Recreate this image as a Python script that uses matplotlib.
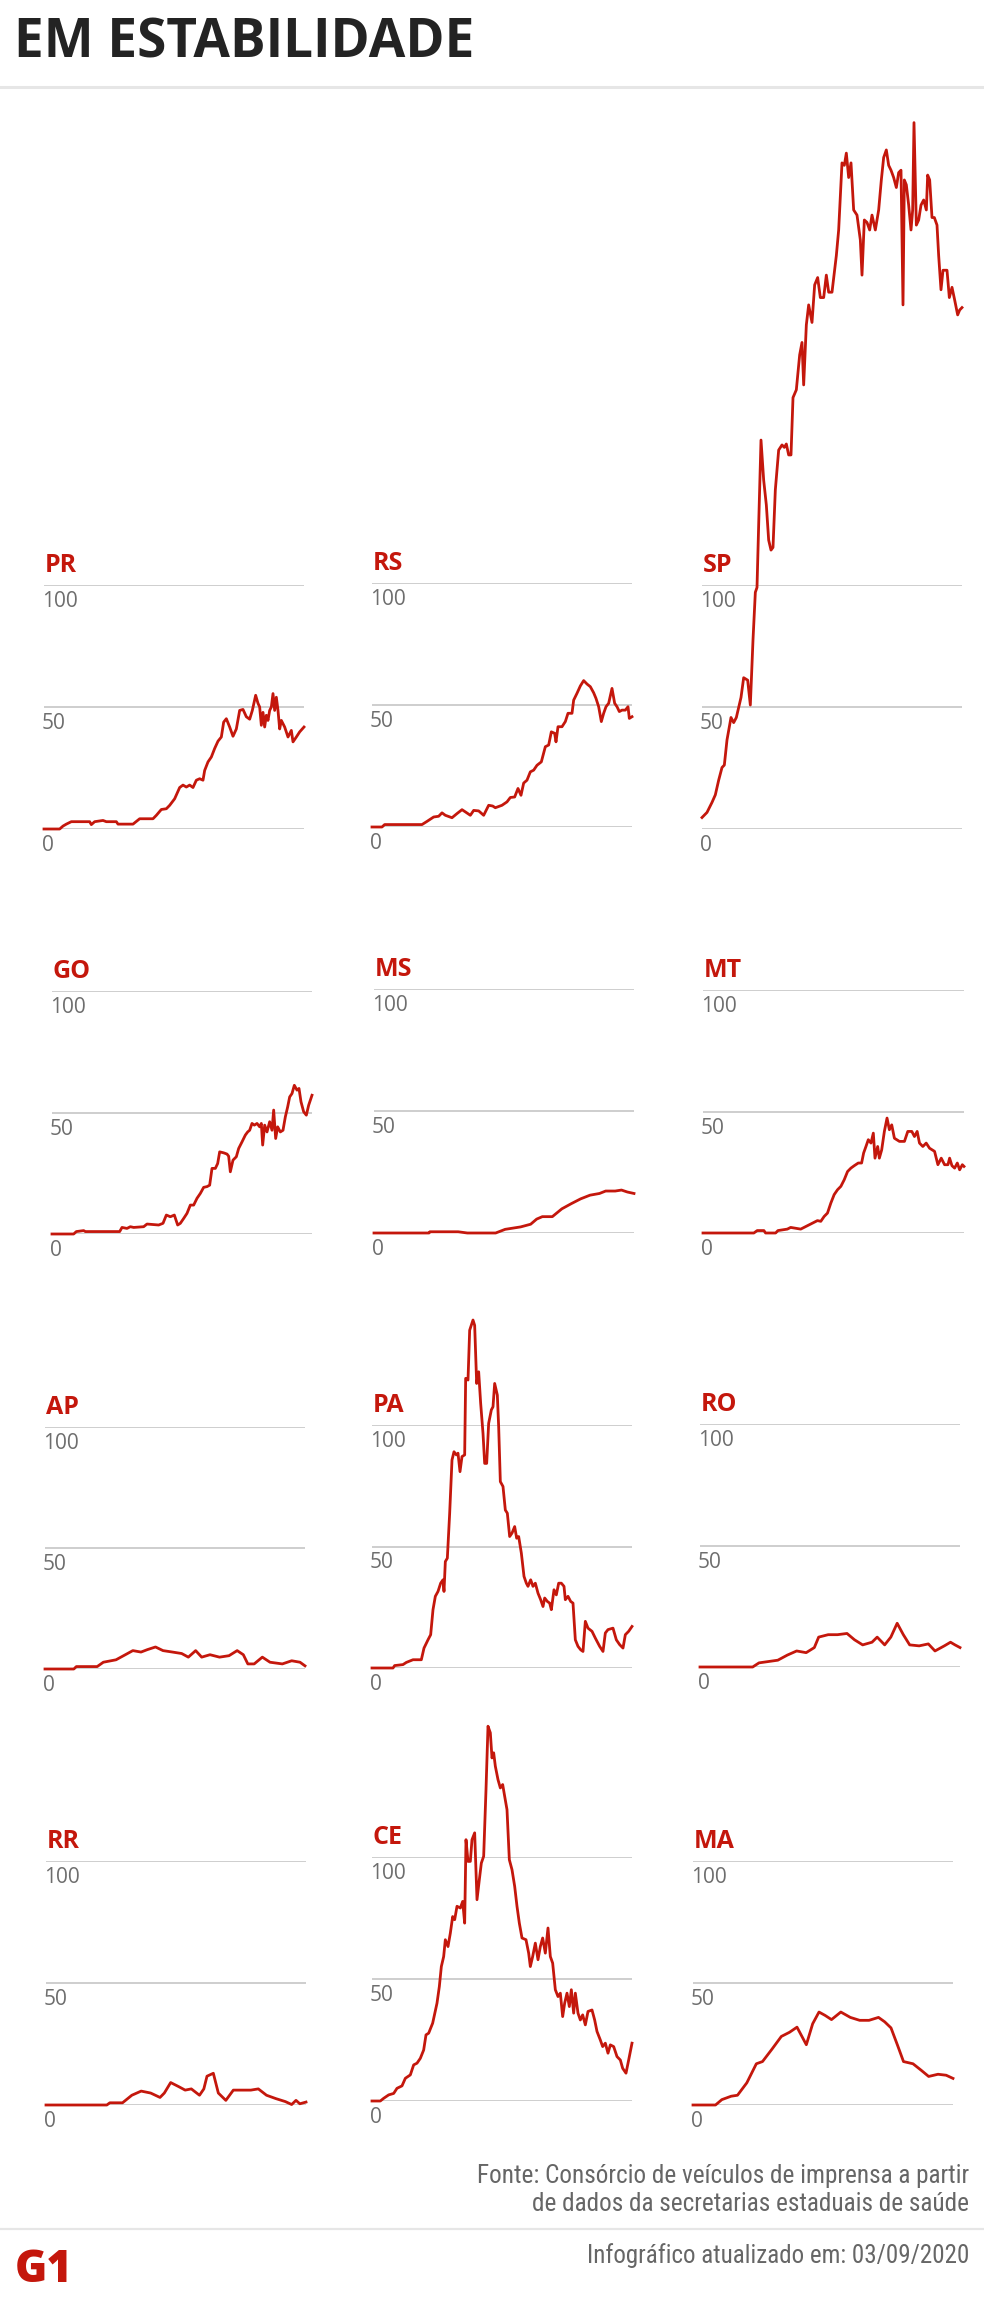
import matplotlib
matplotlib.use("Agg")
import matplotlib.pyplot as plt
from matplotlib import font_manager

# ---- dados: (dia desde o início da série, valor) ----
pr = [(0, 0), (9.4, 0), (11.4, 1.2), (13.4, 2), (16.4, 3), (27.4, 3), (28.4, 1.8), (30.4, 3), (35.4, 3.5),
      (37.4, 3), (43.4, 3), (44.4, 2), (53.4, 2), (57.4, 4.2), (65.4, 4.2), (67.4, 5.6), (70.4, 8), (73.4, 8.3),
      (75.4, 9.7), (78.4, 12.4), (81.4, 17), (83.4, 18), (85.4, 17.2), (87.4, 18), (89.4, 17), (91.4, 20),
      (93.4, 20.6), (95.4, 20), (96.4, 24), (98.4, 27.5), (100.4, 29.5), (102.4, 33), (104.4, 36), (106.4, 37.7),
      (107.8, 43.8), (109.4, 45.2), (111.4, 41.8), (113.4, 38), (115.4, 41), (117.4, 48.6), (119.4, 49),
      (121.4, 46), (123.4, 45), (125, 48.6), (127, 54.8), (128.4, 51.5), (129.4, 50), (130.4, 42.5),
      (131.4, 47.8), (132.4, 41.8), (133.4, 46.6), (134.4, 44.5), (135.4, 48.6), (136.4, 50), (137.4, 55.5),
      (138.4, 48.6), (139.4, 54), (140.4, 48.6), (141.4, 41), (142.4, 44.5), (144.4, 41.8), (146.4, 37.7),
      (148.4, 40.4), (149.4, 35.7), (151.4, 37.7), (153.4, 39.8), (156, 41.8)]

rs = [(0, 0), (6, 0), (7.6, 1), (30, 1), (33, 2.3), (37, 4.1), (40, 4.4), (42, 5.8), (44, 4.8), (48, 3.8),
      (51, 5.5), (54, 7.1), (56, 6.2), (59, 4.8), (61, 6.8), (64, 6.6), (67, 4.8), (70, 8.9), (72.4, 8.6),
      (74, 7.9), (78, 8.9), (81, 10.3), (83, 12.1), (85.6, 12.3), (87.6, 15.8), (89.4, 13), (91, 18), (93, 19.2),
      (95, 22.6), (97, 23.3), (99, 25.3), (101.6, 26.7), (104, 32.9), (106, 33.6), (107.6, 39), (109.6, 38.4),
      (110.4, 34.9), (111.6, 41.1), (114, 41.1), (116, 43.2), (117.6, 46.6), (120, 46.6), (121, 52), (123, 54.8),
      (125, 57.8), (127, 60), (129, 58.6), (131, 57.5), (133, 55), (134.4, 52.7), (136, 49.3), (137.6, 43.2),
      (139, 46.6), (140.4, 49.3), (142, 50.7), (144, 56.8), (145.6, 50.7), (147, 49.3), (148.4, 47.3),
      (150, 47.9), (152, 47.9), (153.6, 49.3), (154.4, 44.5), (156, 45.2)]

sp = [(0, 4.7), (3, 6.8), (6, 10.9), (8, 14), (10, 20), (12, 25.2), (13.4, 26.2), (15, 36.5), (17.4, 45.7),
      (19, 43.6), (20.6, 45.7), (22, 49.8), (23.4, 53.9), (25, 62), (27.4, 61), (29, 50.8), (30.6, 77.5),
      (32, 97), (33, 99), (34, 124.6), (35.4, 159.4), (37, 143), (38.6, 132.8), (40, 118.4), (41.4, 114.3),
      (42.6, 115.4), (44, 139), (46, 155.3), (48, 157.4), (49.4, 156.4), (50.6, 157.8), (52, 153.3),
      (53.4, 153.3), (54.6, 176.8), (56.6, 180), (58.6, 194.3), (60, 199.4), (61, 182), (62.6, 206.6),
      (64, 214.8), (66, 207.6), (67.6, 223), (69.4, 226), (71, 217.8), (73, 217.8), (74.6, 227), (76, 220),
      (78, 220), (80.6, 235), (82, 245.5), (84, 273), (85.4, 272), (86.6, 277), (88, 267), (89.4, 273),
      (91, 253.7), (93, 251.6), (95, 241.4), (96, 227), (97.4, 249.6), (99, 248.6), (100.6, 245.5), (102, 251.6),
      (104, 245.5), (106, 253.7), (107.6, 266), (109, 275.2), (110.6, 278.3), (112, 272), (113.4, 270),
      (115, 267), (116.6, 262.9), (118, 269), (119.4, 270), (120.6, 214.8), (121.4, 266), (122.6, 264),
      (124, 255.7), (125.4, 245.5), (126.4, 253.7), (127.2, 289.5), (128.6, 247.5), (130, 249.6), (131.4, 255.7),
      (133, 257.8), (134.6, 253.7), (135.4, 268), (136.6, 266), (138, 250.6), (139.4, 250.6), (141, 247.5),
      (142, 235), (143.4, 221), (144.6, 229), (147, 229), (148.4, 217.8), (150, 222), (151.6, 216.8),
      (153.4, 210.7), (154.6, 212.7), (156, 213.7)]

go = [(0, 0), (13, 0), (14.6, 1), (19, 1.4), (20, 1), (40.6, 1), (42, 2.7), (45, 2.3), (47, 3), (49, 2.7),
      (55, 3), (57, 4.1), (64, 3.7), (66.6, 4.4), (68.6, 7.8), (71, 7.1), (73.4, 7.8), (75.4, 3.7), (77, 4.4),
      (79, 6.4), (81, 8.5), (83, 11.9), (85, 11.9), (87, 14.7), (89, 16.7), (91, 19.2), (93, 19.5), (94.6, 20.1),
      (96, 27), (98, 27), (99.4, 29), (100.6, 33.8), (103, 33.4), (105, 32.9), (106, 32), (107, 25.6),
      (108.6, 30.4), (110.6, 31.8), (112, 35.2), (114, 37.9), (116, 40.7), (117.4, 42), (118.6, 42.7),
      (120, 45.5), (121.4, 44.8), (123, 45.5), (124.6, 44.1), (125.6, 45.5), (126.4, 36.6), (127.6, 44.8),
      (129, 42), (130.6, 46.2), (132, 42.7), (133, 51), (134.2, 39.3), (135.4, 44.1), (137, 42), (138.6, 42.7),
      (140, 48.2), (141.4, 52.3), (142.6, 56.4), (144, 57.8), (145.4, 61.2), (147, 59.2), (148.2, 59.9),
      (149.4, 54.4), (151, 50.3), (152.6, 48.9), (154, 53), (156, 57.1)]

ms = [(0, 0), (33, 0), (33.5, 0.5), (50.5, 0.5), (56, 0), (73, 0), (78.7, 1.5), (88, 2.5), (94, 3.6),
      (97.6, 5.7), (101, 6.7), (107, 6.7), (112.7, 9.9), (118.3, 12), (124, 14), (129.6, 15.5), (135.3, 16.2),
      (139, 17.2), (144.7, 17.2), (148.5, 17.6), (152, 16.8), (156, 16.2)]

mt = [(0, 0), (30.4, 0), (32.4, 1), (36.4, 1), (37.4, 0), (43.4, 0), (44.8, 1), (50.4, 1.6), (52.4, 2.3),
      (58.4, 1.6), (62.4, 3), (66.4, 4.4), (68.4, 5.1), (70.4, 4.8), (72.4, 6.8), (74.4, 8.2), (76.4, 12.3),
      (78.4, 15.8), (80.4, 17.8), (82.4, 19.2), (84.4, 21.9), (86.4, 25.3), (88.4, 26.7), (90.4, 27.7),
      (92.8, 28.8), (94.8, 28.8), (96, 32.9), (97.4, 35.6), (98.8, 38.4), (100.4, 37), (101.8, 41.1),
      (102.8, 30.8), (104.4, 35.6), (105.4, 30.8), (106.8, 34.2), (108.4, 41.8), (110, 47.3), (111.4, 42.5),
      (112.8, 44.5), (114.4, 39), (117.4, 37.7), (120.4, 37.7), (122.4, 41.8), (124.8, 41.8), (126.4, 39.7),
      (128, 41.8), (129.4, 37), (131.4, 35.6), (133.4, 37), (135.4, 34.9), (138.4, 33.6), (140.4, 28.1),
      (142.4, 30.8), (144.4, 28.1), (146.4, 28.1), (147.4, 30.8), (148.8, 27.7), (150.4, 26.7), (152, 28.8),
      (153.4, 26), (155, 28.1), (156, 27.4)]

ap = [(0, 0), (17.3, 0), (18.8, 1), (31.3, 1), (35, 2.8), (42.6, 3.8), (48.2, 5.9), (52.7, 7.6), (57.6, 7),
      (61.4, 8), (66.3, 9.1), (70.8, 7.6), (76.5, 7), (82, 6.4), (86, 4.9), (90.4, 7.6), (94, 4.9), (99, 5.9),
      (104.7, 4.9), (110.4, 5.5), (115.3, 7.6), (119, 5.9), (121.7, 2.1), (125.5, 2.1), (130.4, 4.9),
      (135, 2.8), (142.4, 2.1), (148, 3.4), (153, 2.8), (156, 1.3)]

pa = [(0, 0), (12.6, 0), (13.6, 1), (18.6, 1.4), (20.6, 2.3), (24.6, 3.4), (29.6, 3.4), (31.2, 8.2),
      (33.6, 11.6), (35.2, 13.7), (36.6, 24), (38, 29.5), (39.6, 31.5), (41.2, 34.9), (42.6, 36.3), (43.2, 31.5),
      (44, 43.8), (45.2, 45.2), (46.6, 63.7), (48, 85.6), (49.2, 89), (50.6, 87.7), (51.6, 88.4), (52.8, 80.8),
      (54, 87), (55.6, 87.7), (56.2, 119.2), (57.6, 118.5), (58.6, 139), (60.6, 143.2), (61.6, 141),
      (62.8, 117.1), (64, 121.9), (65.2, 108.9), (66.6, 96.6), (67.6, 84.2), (68.8, 84.2), (70, 100.7),
      (71.6, 106.2), (72.6, 107.5), (73.6, 117.1), (75.2, 112.3), (76, 99.3), (77, 76.7), (78.6, 74.7),
      (80, 65), (81.2, 63.7), (82.6, 54.1), (84, 55.5), (85.6, 58.2), (86.8, 53.4), (88, 54.1), (89.6, 47.3),
      (91.2, 37.7), (92.6, 34.9), (93.6, 33.6), (95.2, 36.3), (96.6, 33.6), (98, 34.9), (99.6, 30.8),
      (101.2, 28.1), (102.6, 25.3), (103.6, 28.8), (105.2, 27.4), (106.6, 26.7), (107.6, 24), (109.2, 32.2),
      (110.6, 30.1), (112, 34.9), (113.6, 34.9), (115.2, 33.6), (116, 28.1), (117.6, 29.5), (119.2, 27.4),
      (120.6, 26.7), (122, 11.6), (123.6, 8.9), (125.2, 7.5), (126.6, 6.8), (128, 19.2), (129.6, 16.4),
      (132, 15.1), (134, 12.3), (136.6, 8.9), (138.6, 6.8), (140, 14.4), (141.6, 15.8), (144.6, 16.4),
      (146.6, 11.6), (148.6, 9.6), (150.6, 8.2), (152, 13.7), (154, 15.1), (156, 17.1)]

ro = [(0, 0), (31.6, 0), (35.4, 1.7), (46.7, 2.8), (52.4, 4.9), (58, 6.6), (63.7, 5.9), (68.6, 8),
      (71.2, 12.3), (76.9, 13.3), (82.5, 13.3), (88.2, 13.8), (92.7, 11.2), (97.6, 9.1), (103.2, 10.2),
      (106.3, 12.3), (110.8, 9.1), (114.5, 12.3), (118.3, 18), (122, 13.3), (125.8, 9.1), (131.5, 8.7),
      (137, 9.5), (141, 6.6), (146.6, 8.7), (150.3, 10.2), (153, 9.1), (156, 8)]

rr = [(0, 0), (36.5, 0), (38.3, 0.9), (45.9, 0.9), (51.5, 4), (57.1, 5.7), (62.8, 4.9), (68.4, 3.1), (71, 4.9),
      (74.8, 9.2), (79.7, 7.5), (83.5, 6.1), (87.2, 6.6), (92.1, 4), (94.7, 6.6), (96.6, 11.8), (100.4, 13),
      (103.4, 4.9), (107.9, 1.9), (112.4, 6.1), (117.3, 6.1), (122.9, 6.1), (127.4, 6.6), (132.3, 4), (138, 2.6),
      (143.6, 1.4), (147.4, 0.2), (150, 1.9), (152.3, 0.5), (156, 1.2)]

ce = [(0, 0), (5, 0), (7, 1.1), (10, 2.5), (13, 3.1), (15, 5.2), (18, 6.2), (20, 9.3), (23, 10.7), (25, 14.8),
      (27, 15.5), (29, 17.5), (31, 20.9), (32.4, 27.1), (34, 27.8), (36.4, 31.9), (39, 40.1), (40.4, 46.9),
      (41.6, 55.1), (43, 59.2), (44, 66.1), (45.6, 63.3), (47, 68.8), (48.4, 75.6), (49.6, 74.3), (51, 79.8),
      (53, 79.1), (54.4, 81.8), (55.6, 72.9), (56.4, 107.1), (57.6, 98.2), (59, 98.2), (60, 107.1),
      (61.6, 109.9), (63, 82.5), (64.4, 90.7), (65.6, 97.5), (67, 100.3), (68.4, 127.6), (69.6, 153.6),
      (71, 150.9), (72, 140.6), (73, 142.7), (74, 137.2), (75.6, 131.7), (77, 128.3), (78.4, 129.7),
      (79.6, 124.9), (81, 119.4), (82.4, 98.9), (84, 94.8), (85.6, 88), (87, 79.8), (88.4, 72.9), (90, 66.8),
      (92.4, 66.1), (94, 60.6), (95, 55.1), (96.4, 59.2), (98, 64.7), (99.6, 57.9), (101, 63.3), (102.4, 66.8),
      (104, 60.6), (105.6, 70.9), (107, 59.2), (108.4, 56.5), (110, 45.6), (111.6, 42.8), (113, 44.2),
      (114.4, 34.6), (115.6, 40.1), (117, 44.2), (118.4, 38.7), (119.6, 45.6), (121, 36), (122, 44.2),
      (123.6, 36), (125, 33.2), (126.4, 35.3), (128, 31.2), (129.6, 36.7), (132, 37.3), (133.6, 33.2),
      (135, 28.5), (137, 25), (138.4, 22.3), (140, 23.7), (141.6, 19.6), (143, 23), (145, 22.3), (147, 18.2),
      (149, 16.8), (150.4, 13.4), (152.4, 11.4), (154, 16.8), (156, 23.7)]

ma = [(0, 0), (13.5, 0), (17.3, 2.2), (22.9, 3.6), (26.7, 4), (32.3, 9.1), (38, 16.9), (41.7, 17.8),
      (47.4, 22.9), (53, 28.1), (57.9, 29.8), (62.4, 31.9), (68, 24.7), (71.8, 33.3), (75.6, 38.1), (79.3, 36.7),
      (83.1, 35), (88.7, 38.1), (94.4, 35.9), (100, 34.7), (105.6, 34.7), (111.3, 35.9), (115, 34.1),
      (118.8, 31.6), (122.6, 24.7), (126.3, 17.8), (132, 16.9), (136.8, 14.3), (141.4, 11.7), (147, 12.6),
      (151.9, 12.2), (156, 10.9)]

series = {"PR": pr, "RS": rs, "SP": sp, "GO": go, "MS": ms, "MT": mt,
          "AP": ap, "PA": pa, "RO": ro, "RR": rr, "CE": ce, "MA": ma}
ticks = [0, 50, 100]

titulo = "EM ESTABILIDADE"
fonte_1 = "Fonte: Consórcio de veículos de imprensa a partir"
fonte_2 = "de dados da secretarias estaduais de saúde"
atualizado = "Infográfico atualizado em: 03/09/2020"

# ---- layout em pixels: esquerda, direita, linha do 100, linha do 0 ----
W, H = 984, 2307
layout = {
    "PR": (44, 304, 585, 829), "RS": (372, 632, 583, 827), "SP": (702, 962, 585, 829),
    "GO": (52, 312, 991, 1234), "MS": (374, 634, 989, 1233), "MT": (703, 964, 990, 1233),
    "AP": (45, 305, 1427, 1669), "PA": (372, 632, 1425, 1668), "RO": (700, 960, 1424, 1667),
    "RR": (46, 306, 1861, 2105), "CE": (372, 632, 1857, 2101), "MA": (693, 953, 1861, 2105),
}

VERMELHO = "#c4170c"
CINZA_LINHA = "#c6c6c6"
CINZA_TEXTO = "#6e6e6e"

nomes = {f.name for f in font_manager.fontManager.ttflist}


def escolhe(*opcoes):
    for o in opcoes:
        if o in nomes:
            return o
    return "DejaVu Sans"


fonte = escolhe("Open Sans", "Noto Sans", "Roboto")
estreita = escolhe("Liberation Sans Narrow", "Roboto Condensed", "Open Sans Condensed", "Open Sans")

fig = plt.figure(figsize=(W / 100, H / 100), dpi=100)
renderer = fig.canvas.get_renderer()


def px(x, y):
    return x / W, 1 - y / H


def ajusta_largura(t, largura):
    bb = t.get_window_extent(renderer=renderer)
    t.set_fontsize(t.get_fontsize() * largura / bb.width)
    return t.get_fontsize()


# titulo e linha
t = fig.text(*px(14, 58), titulo, fontsize=38, fontweight="bold", family=fonte, color="#232323",
             ha="left", va="baseline")
ajusta_largura(t, 460)
fig.add_artist(plt.Line2D([0, 1], [1 - 87 / H] * 2, color="#e6e6e6", lw=2.2))

for sigla, pts in series.items():
    L, R, y100, y0 = layout[sigla]
    ax = fig.add_axes([L / W, 1 - y0 / H, (R - L) / W, (y0 - y100) / H])
    ax.set_xlim(0, 156)
    ax.set_ylim(0, 100)
    ax.axis("off")
    for v in ticks:
        ax.axhline(v, color=CINZA_LINHA, lw=1.2, zorder=1)
        ax.annotate(str(v), xy=(0, v), xytext=(-2, -22), textcoords="offset pixels",
                    ha="left", va="baseline", fontsize=15, family=fonte, color=CINZA_TEXTO)
    dias, vals = zip(*pts)
    ax.plot(dias, vals, color=VERMELHO, lw=2.0, clip_on=False, zorder=3, solid_joinstyle="round")
    ax.annotate(sigla, xy=(0, 100), xytext=(1, 13), textcoords="offset pixels", ha="left",
                va="baseline", fontsize=18, fontweight="bold", family=fonte, color=VERMELHO)

# rodape
t1 = fig.text(*px(969, 2183), fonte_1, family=estreita, fontsize=17, color="#666666",
              ha="right", va="baseline")
tam = ajusta_largura(t1, 494)
fig.text(*px(969, 2211), fonte_2, family=estreita, fontsize=tam, color="#666666",
         ha="right", va="baseline")
fig.add_artist(plt.Line2D([0, 1], [1 - 2229 / H] * 2, color="#e6e6e6", lw=1.6))
t3 = fig.text(*px(969, 2263), atualizado, family=estreita, fontsize=17, color="#666666",
              ha="right", va="baseline")
ajusta_largura(t3, 382)
g1 = fig.text(*px(15, 2282), "G1", family=fonte, fontsize=32, fontweight="heavy", color=VERMELHO,
              ha="left", va="baseline")
ajusta_largura(g1, 58)

fig.savefig("out.png", dpi=100)
